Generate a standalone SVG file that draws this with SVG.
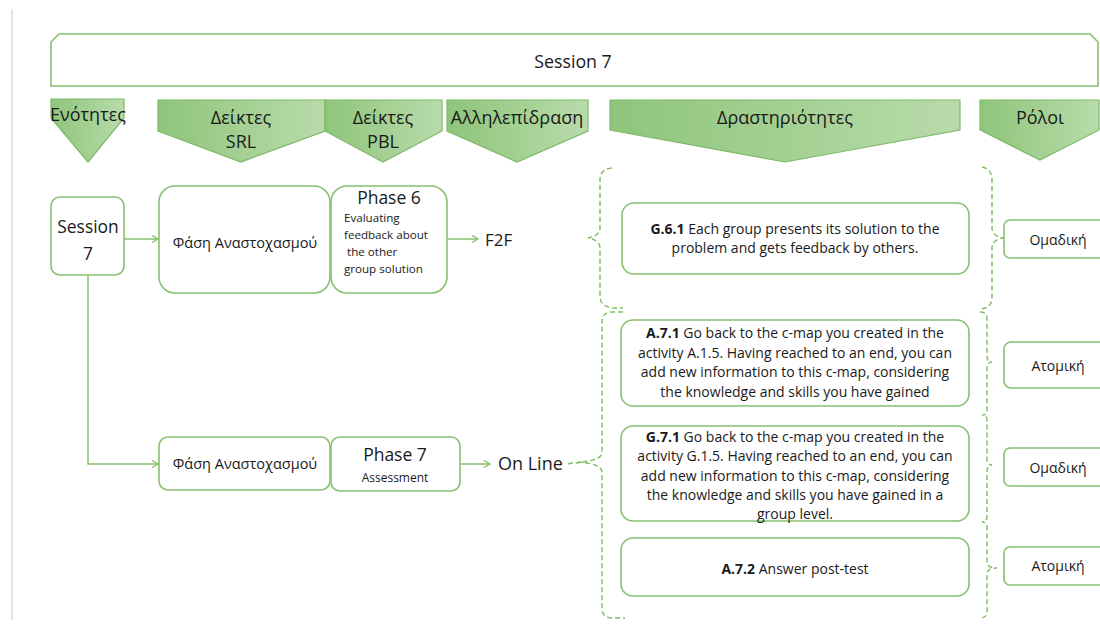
<svg xmlns="http://www.w3.org/2000/svg" width="1100" height="628" viewBox="0 0 1100 628">
  <style>
    text { font-family: "Open Sans", "Noto Sans", "Liberation Sans", sans-serif; fill: #1a1a1a; }
    .box { fill: #ffffff; stroke: #86c170; stroke-width: 1.6; }
    .hdr { fill: url(#hdrFill); stroke: #7db968; stroke-width: 1.2; }
    .hdr-t { font-size: 18px; text-anchor: middle; }
    .link { fill: none; stroke: #86c170; stroke-width: 1.5; }
    .brace { fill: none; stroke: #7dbd62; stroke-width: 1.4; stroke-dasharray: 5 3; }
    .act { font-size: 14px; text-anchor: middle; }
    .role { font-size: 14px; text-anchor: middle; }
    .b { font-weight: 700; }
  </style>
  <defs>
    <linearGradient id="hdrFill" x1="0" y1="0" x2="1" y2="0">
      <stop offset="0" stop-color="#8ec57b"/>
      <stop offset="1" stop-color="#b9dbab"/>
    </linearGradient>
    <marker id="open" markerWidth="10" markerHeight="10" refX="7" refY="4" orient="auto" markerUnits="userSpaceOnUse">
      <path d="M1,0.5 L7,4 L1,7.5" fill="none" stroke="#86c170" stroke-width="1.4"/>
    </marker>
  </defs>

  <!-- page margin rule -->
  <line x1="12" y1="9" x2="12" y2="620" stroke="#d0d0d0" stroke-width="1.2"/>

  <!-- title banner -->
  <g id="title">
    <path class="box" d="M59,34 H1090 L1098,42 V86 H51 V42 Z"/>
    <text x="573" y="68" font-size="17.8px" text-anchor="middle">Session 7</text>
  </g>

  <!-- column headers -->
  <g id="hdr-units">
    <path class="hdr" d="M51,99 H124 V118 L88,162 L51,118 Z"/>
    <text class="hdr-t" x="88" y="121" font-size="17.4px">Ενότητες</text>
  </g>
  <g id="hdr-srl">
    <path class="hdr" d="M158,100 H325 V131 L241,162 L158,131 Z"/>
    <text class="hdr-t" x="241" y="124">Δείκτες</text>
    <text class="hdr-t" x="241" y="148">SRL</text>
  </g>
  <g id="hdr-pbl">
    <path class="hdr" d="M325,100 H442 V131 L383,162 L325,131 Z"/>
    <text class="hdr-t" x="383" y="124">Δείκτες</text>
    <text class="hdr-t" x="383" y="148">PBL</text>
  </g>
  <g id="hdr-interaction">
    <path class="hdr" d="M447,100 H588 V131 L517,162 L447,131 Z"/>
    <text class="hdr-t" x="517" y="124">Αλληλεπίδραση</text>
  </g>
  <g id="hdr-activities">
    <path class="hdr" d="M610,100 H960 V130 L785,162 L610,130 Z"/>
    <text class="hdr-t" x="785" y="124">Δραστηριότητες</text>
  </g>
  <g id="hdr-roles">
    <path class="hdr" d="M980,100 H1099 V130 L1040,160 L980,130 Z"/>
    <text class="hdr-t" x="1040" y="124">Ρόλοι</text>
  </g>

  <!-- flow nodes -->
  <g id="session7">
    <rect class="box" x="51" y="197" width="73" height="78" rx="9"/>
    <text x="88" y="233" font-size="17.4px" text-anchor="middle">Session</text>
    <text x="88" y="260" font-size="17.4px" text-anchor="middle">7</text>
  </g>
  <g id="reflect1">
    <rect class="box" x="159" y="186" width="171" height="107" rx="16"/>
    <text x="245" y="248" font-size="14.5px" text-anchor="middle">Φάση Αναστοχασμού</text>
  </g>
  <g id="phase6">
    <rect class="box" x="331" y="186" width="116" height="107" rx="16"/>
    <text x="389" y="204" font-size="17.5px" text-anchor="middle">Phase 6</text>
    <text x="344" y="222" font-size="11.6px">Evaluating</text>
    <text x="344" y="239" font-size="11.6px">feedback about</text>
    <text x="344" y="256" font-size="11.6px" xml:space="preserve"> the other</text>
    <text x="344" y="273" font-size="11.6px">group solution</text>
  </g>
  <g id="f2f">
    <text x="485" y="246" font-size="17px">F2F</text>
  </g>
  <g id="reflect2">
    <rect class="box" x="159" y="437" width="171" height="53" rx="9"/>
    <text x="245" y="469" font-size="14.5px" text-anchor="middle">Φάση Αναστοχασμού</text>
  </g>
  <g id="phase7">
    <rect class="box" x="331" y="437" width="129" height="54" rx="9"/>
    <text x="395" y="461" font-size="17.5px" text-anchor="middle">Phase 7</text>
    <text x="395" y="482" font-size="12px" text-anchor="middle">Assessment</text>
  </g>
  <g id="online">
    <text x="498" y="470" font-size="18px">On Line</text>
  </g>

  <!-- activities -->
  <g id="g61">
    <rect class="box" x="622" y="203" width="347" height="71" rx="12"/>
    <text class="act" x="795" y="234"><tspan class="b">G.6.1</tspan> Each group presents its solution to the</text>
    <text class="act" x="795" y="253">problem and gets feedback by others.</text>
  </g>
  <g id="a71">
    <rect class="box" x="621" y="320" width="348" height="86" rx="12"/>
    <text class="act" x="795" y="338"><tspan class="b">A.7.1</tspan> Go back to the c-map you created in the</text>
    <text class="act" x="795" y="357.5">activity A.1.5. Having reached to an end, you can</text>
    <text class="act" x="795" y="377">add new information to this c-map, considering</text>
    <text class="act" x="795" y="396.5">the knowledge and skills you have gained</text>
  </g>
  <g id="g71">
    <rect class="box" x="621" y="426" width="348" height="95" rx="12"/>
    <text class="act" x="795" y="441.5"><tspan class="b">G.7.1</tspan> Go back to the c-map you created in the</text>
    <text class="act" x="795" y="461">activity G.1.5. Having reached to an end, you can</text>
    <text class="act" x="795" y="480.5">add new information to this c-map, considering</text>
    <text class="act" x="795" y="500">the knowledge and skills you have gained in a</text>
    <text class="act" x="795" y="519">group level.</text>
  </g>
  <g id="a72">
    <rect class="box" x="621" y="538" width="348" height="58" rx="12"/>
    <text class="act" x="795" y="574"><tspan class="b">A.7.2</tspan> Answer post-test</text>
  </g>

  <!-- roles -->
  <g id="role1">
    <rect class="box" x="1004" y="220" width="110" height="38" rx="6"/>
    <text class="role" x="1058" y="244.5">Ομαδική</text>
  </g>
  <g id="role2">
    <rect class="box" x="1004" y="342" width="110" height="46" rx="7"/>
    <text class="role" x="1058" y="370.5">Ατομική</text>
  </g>
  <g id="role3">
    <rect class="box" x="1004" y="448" width="110" height="38" rx="6"/>
    <text class="role" x="1058" y="472.5">Ομαδική</text>
  </g>
  <g id="role4">
    <rect class="box" x="1004" y="547" width="110" height="38" rx="6"/>
    <text class="role" x="1058" y="570.5">Ατομική</text>
  </g>

  <!-- connectors -->
  <g id="connectors">
    <line class="link" x1="124" y1="239" x2="158" y2="239" marker-end="url(#open)"/>
    <line class="link" x1="447" y1="239" x2="478" y2="239" marker-end="url(#open)"/>
    <path class="link" d="M88,275 V464 H158" marker-end="url(#open)"/>
    <line class="link" x1="460" y1="464" x2="490" y2="464" marker-end="url(#open)"/>
    <path class="brace" d="M568,464 Q573,462 579,463"/>
    <!-- left braces -->
    <path class="brace" d="M612,168 Q600,169 600,180 V228 Q600,236 588,238 Q600,240 600,248 V296 Q600,306 612,308 H623"/>
    <path class="brace" d="M623,312 H612 Q602,312 602,322 V452 Q602,461 578,462 Q602,464 602,472 V608 Q602,618 612,618 H625"/>
    <!-- right braces -->
    <path class="brace" d="M982,167 Q992,169 992,180 V228 Q992,236 1003,238 Q992,240 992,248 V298 Q992,308 980,309"/>
    <path class="brace" d="M980,312 Q987,312 987,318 V356 Q987,362 992,362 Q987,362 987,368 V410 Q987,415 982,415 Q987,415 987,420 V459 Q987,465 992,465 Q987,465 987,471 V517 Q987,522 982,522 Q987,522 987,527 V562 Q987,568 997,568 Q987,568 987,574 V612 Q987,618 980,618"/>
  </g>
</svg>
